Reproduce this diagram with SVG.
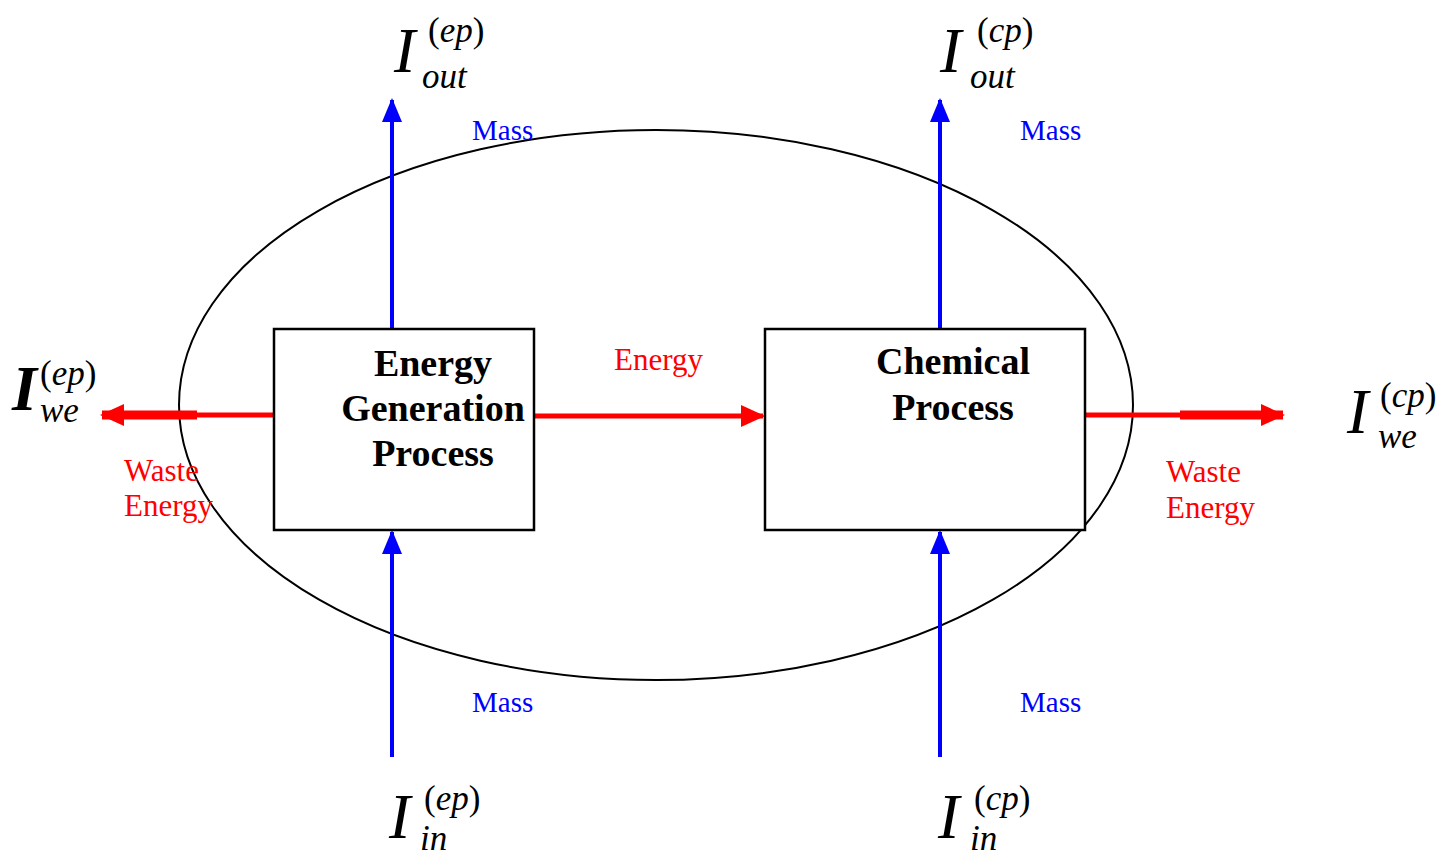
<svg xmlns="http://www.w3.org/2000/svg" width="1445" height="860" viewBox="0 0 1445 860">
<defs>
<style>
.box{fill:#fff;stroke:#000;stroke-width:2.5}
.lbl{font-family:"Liberation Serif",serif;font-weight:bold;font-size:38px;fill:#000;text-anchor:middle}
.mass{font-family:"Liberation Serif",serif;font-size:29px;fill:#0000ff}
.red{font-family:"Liberation Serif",serif;font-size:31px;fill:#ff0000}
.blue{stroke:#0000ff;stroke-width:4;fill:none}
.rl{stroke:#ff0000;fill:none}
.m{font-family:"Liberation Serif",serif;font-style:italic;fill:#000}
.big{font-size:64px}
.sm{font-size:35px}
.up{font-style:normal}
</style>
<marker id="ab" markerUnits="userSpaceOnUse" viewBox="0 0 24 20" markerWidth="24" markerHeight="20" refX="22" refY="10" orient="auto">
<path d="M0,0 L24,10 L0,20 Z" fill="#0000ff"/>
</marker>
<marker id="ar" markerUnits="userSpaceOnUse" viewBox="0 0 24 22" markerWidth="24" markerHeight="22" refX="22" refY="11" orient="auto">
<path d="M0,0 L24,11 L0,22 Z" fill="#ff0000"/>
</marker>
</defs>
<rect width="1445" height="860" fill="#fff"/>
<g id="boundary">
<ellipse cx="656" cy="405" rx="477" ry="275" fill="none" stroke="#000" stroke-width="2"/>
</g>
<g id="connectors">
<line class="blue" x1="392" y1="328" x2="392" y2="100" marker-end="url(#ab)"/>
<line class="blue" x1="940" y1="328" x2="940" y2="100" marker-end="url(#ab)"/>
<line class="blue" x1="392" y1="757" x2="392" y2="532" marker-end="url(#ab)"/>
<line class="blue" x1="940" y1="757" x2="940" y2="532" marker-end="url(#ab)"/>
<line class="rl" stroke-width="5" x1="534" y1="416" x2="763" y2="416" marker-end="url(#ar)"/>
<line class="rl" stroke-width="5" x1="274" y1="415" x2="197" y2="415"/>
<line class="rl" stroke-width="9" x1="197" y1="415" x2="102" y2="415" marker-end="url(#ar)"/>
<line class="rl" stroke-width="5" x1="1085" y1="415" x2="1180" y2="415"/>
<line class="rl" stroke-width="9" x1="1180" y1="415" x2="1283" y2="415" marker-end="url(#ar)"/>
</g>
<g id="energy-generation">
<rect class="box" x="274" y="329" width="260" height="201"/>
<text class="lbl" x="433" y="376">Energy</text>
<text class="lbl" x="433" y="421">Generation</text>
<text class="lbl" x="433" y="466">Process</text>
</g>
<g id="chemical-process">
<rect class="box" x="765" y="329" width="320" height="201"/>
<text class="lbl" x="953" y="374">Chemical</text>
<text class="lbl" x="953" y="420">Process</text>
</g>
<g id="labels">
<text class="mass" x="472" y="140">Mass</text>
<text class="mass" x="1020" y="140">Mass</text>
<text class="mass" x="472" y="712">Mass</text>
<text class="mass" x="1020" y="712">Mass</text>
<text class="red" x="614" y="370">Energy</text>
<text class="red" x="124" y="481">Waste</text>
<text class="red" x="124" y="516">Energy</text>
<text class="red" x="1166" y="482">Waste</text>
<text class="red" x="1166" y="518">Energy</text>
</g>
<g id="I-out-ep">
<text class="m big" x="394" y="72">I</text>
<text class="m sm" x="428" y="42"><tspan class="up">(</tspan>ep<tspan class="up">)</tspan></text>
<text class="m sm" x="422" y="88">out</text>
</g>
<g id="I-out-cp">
<text class="m big" x="940" y="72">I</text>
<text class="m sm" x="977" y="42"><tspan class="up">(</tspan>cp<tspan class="up">)</tspan></text>
<text class="m sm" x="970" y="88">out</text>
</g>
<g id="I-we-ep">
<text class="m big" x="12" y="410" font-weight="bold">I</text>
<text class="m sm" x="40" y="385"><tspan class="up">(</tspan>ep<tspan class="up">)</tspan></text>
<text class="m sm" x="40" y="422">we</text>
</g>
<g id="I-we-cp">
<text class="m big" x="1347" y="433">I</text>
<text class="m sm" x="1380" y="407"><tspan class="up">(</tspan>cp<tspan class="up">)</tspan></text>
<text class="m sm" x="1378" y="448">we</text>
</g>
<g id="I-in-ep">
<text class="m big" x="389" y="838">I</text>
<text class="m sm" x="424" y="810"><tspan class="up">(</tspan>ep<tspan class="up">)</tspan></text>
<text class="m sm" x="420" y="850">in</text>
</g>
<g id="I-in-cp">
<text class="m big" x="938" y="838">I</text>
<text class="m sm" x="974" y="810"><tspan class="up">(</tspan>cp<tspan class="up">)</tspan></text>
<text class="m sm" x="970" y="850">in</text>
</g>
</svg>
